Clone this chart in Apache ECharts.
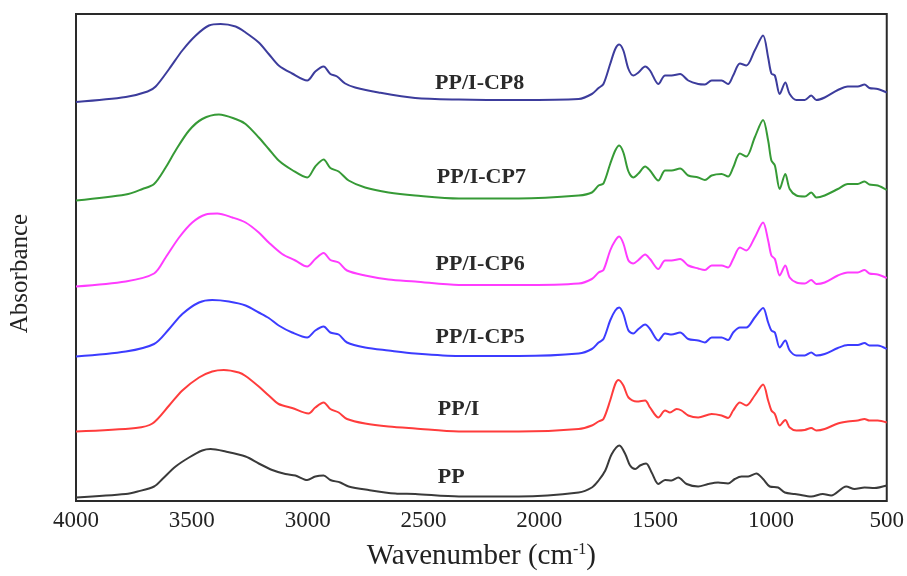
<!DOCTYPE html>
<html>
<head>
<meta charset="utf-8">
<title>FTIR spectra</title>
<script src="https://cdn.jsdelivr.net/npm/echarts@6/dist/echarts.min.js"></script>
<style>
  html, body { margin: 0; padding: 0; background: #ffffff; }
  #chart { width: 907px; height: 576px; }
</style>
</head>
<body>
<div id="chart"></div>
<script>
// FTIR absorbance spectra, [wavenumber (cm-1), absorbance (a.u., offset stacked)]
const seriesNames = ['PP/I-CP8', 'PP/I-CP7', 'PP/I-CP6', 'PP/I-CP5', 'PP/I', 'PP'];

const spectrumCP8 = [
  [4000,79.8],[3785,80.8],[3691,81.9],[3656,82.9],[3598,86.4],[3541,90.1],[3483,93.1],[3426,95.1],
  [3376,95.4],[3311,94.9],[3268,93.7],[3211,91.7],[3168,89.4],[3125,87.1],[3067,85.5],[3002,84.1],
  [2967,85.9],[2931,86.9],[2902,85.4],[2873,84.9],[2838,83.5],[2795,82.7],[2694,81.7],[2536,80.6],
  [2347,80.3],[2089,80.2],[1830,80.4],[1773,81.4],[1744,82.6],[1723,83.4],[1694,87.4],[1672,90.4],
  [1655,91.3],[1637,90.1],[1615,86.4],[1594,85.1],[1572,85.7],[1543,86.9],[1522,86.1],[1486,83.4],
  [1457,85.1],[1429,85.1],[1392,85.4],[1357,84.1],[1314,83.4],[1285,83.3],[1256,84.1],[1213,84.1],
  [1185,83.4],[1163,85.1],[1134,87.5],[1106,87.1],[1070,90.1],[1034,93.1],[1012,88.7],[998,85.5],
  [983,85.1],[962,81.4],[938,83.7],[919,81.4],[890,80.2],[854,80.2],[826,81.1],[804,80.2],
  [768,80.7],[711,82.2],[668,82.9],[625,82.9],[596,83.3],[575,82.6],[539,82.4],[500,81.7]
];

const spectrumCP7 = [
  [4000,60.1],[3785,61.3],[3713,62.4],[3663,63.4],[3613,66.7],[3570,70.1],[3512,74.1],[3455,76.4],
  [3383,77.3],[3311,76.4],[3268,75.4],[3211,72.7],[3168,70.4],[3125,68.1],[3067,66.2],[3002,64.7],
  [2967,66.9],[2931,68.3],[2902,66.6],[2866,65.9],[2823,64.1],[2752,62.7],[2651,61.7],[2536,61.1],
  [2347,60.5],[2089,60.5],[1830,61.1],[1773,61.7],[1744,63.1],[1723,63.5],[1694,67.4],[1672,70.1],
  [1655,71.1],[1637,69.7],[1615,65.9],[1594,64.7],[1572,65.5],[1543,66.9],[1522,66.1],[1486,64.1],
  [1457,66.1],[1429,66.1],[1392,66.5],[1357,65.1],[1314,64.7],[1285,64.2],[1256,65.1],[1213,65.4],
  [1185,64.9],[1163,66.7],[1134,69.5],[1106,68.9],[1070,72.7],[1034,76.2],[1012,72.1],[998,68.1],
  [983,67.1],[962,62.4],[938,65.4],[919,62.4],[890,61.1],[854,60.9],[826,61.7],[804,60.7],
  [768,61.1],[711,62.4],[668,63.4],[625,63.4],[596,63.9],[575,63.3],[539,63.1],[500,62.2]
];

const spectrumCP6 = [
  [4000,42.9],[3785,43.9],[3663,45.5],[3613,48.7],[3555,52.7],[3498,55.7],[3440,57.3],[3390,57.5],
  [3325,56.7],[3268,55.7],[3211,53.7],[3168,51.7],[3110,49.4],[3053,48.1],[3002,46.9],[2967,48.4],
  [2931,49.6],[2902,48.2],[2866,47.7],[2830,46.1],[2752,45.1],[2651,44.3],[2536,43.9],[2347,43.2],
  [2089,43.2],[1830,43.5],[1773,44.4],[1744,45.7],[1723,46.2],[1694,50.1],[1672,52.1],[1655,52.9],
  [1637,51.5],[1615,48.1],[1594,47.5],[1572,48.2],[1543,49.3],[1522,48.4],[1486,46.4],[1457,48.1],
  [1429,48.1],[1392,48.4],[1357,47.1],[1314,46.5],[1285,46.2],[1256,47.1],[1213,47.1],[1185,46.7],
  [1163,48.4],[1134,50.7],[1106,50.1],[1070,52.7],[1034,55.7],[1012,52.1],[998,49.1],[983,48.4],
  [962,45.1],[938,47.1],[919,44.7],[890,43.7],[854,43.5],[826,44.2],[804,43.4],[768,43.7],
  [711,45.1],[668,45.7],[625,45.7],[596,46.2],[575,45.5],[539,45.3],[500,44.6]
];

const spectrumCP5 = [
  [4000,28.9],[3785,29.9],[3663,31.4],[3598,34.4],[3541,37.4],[3469,39.7],[3412,40.2],[3340,39.9],
  [3268,39.1],[3211,37.7],[3168,36.6],[3125,35.1],[3067,33.7],[3002,32.7],[2967,34.1],[2931,34.9],
  [2902,33.7],[2866,33.3],[2830,31.7],[2752,30.7],[2651,30.1],[2536,29.5],[2347,29.0],[2089,29.0],
  [1830,29.5],[1773,30.4],[1744,31.7],[1723,32.4],[1694,36.1],[1672,38.1],[1655,38.7],[1637,37.4],
  [1615,34.1],[1594,33.5],[1572,34.4],[1543,35.3],[1522,34.4],[1486,32.1],[1457,33.5],[1429,33.3],
  [1392,33.7],[1357,32.4],[1314,32.1],[1285,31.7],[1256,32.7],[1213,32.7],[1185,32.2],[1163,33.7],
  [1134,34.7],[1106,34.7],[1070,36.7],[1034,38.6],[1012,35.7],[998,34.1],[983,33.7],[962,30.7],
  [938,32.1],[919,30.1],[890,29.1],[854,29.1],[826,29.7],[804,29.1],[768,29.4],[711,30.6],
  [668,31.2],[625,31.2],[596,31.6],[575,31.1],[539,31.1],[500,30.4]
];

const spectrumPPI = [
  [4000,13.9],[3742,14.6],[3670,15.5],[3598,19.1],[3541,22.1],[3469,24.7],[3412,25.9],[3362,26.2],
  [3297,25.7],[3268,25.0],[3211,22.9],[3168,21.1],[3125,19.4],[3067,18.6],[2996,17.5],[2967,18.7],
  [2931,19.7],[2902,18.4],[2866,17.7],[2830,16.4],[2752,15.5],[2651,14.9],[2536,14.5],[2347,13.9],
  [2089,13.9],[1830,14.4],[1773,15.1],[1744,15.9],[1723,16.4],[1694,20.1],[1672,23.4],[1658,24.2],
  [1637,23.1],[1615,20.7],[1579,19.9],[1543,20.1],[1522,18.7],[1486,16.7],[1457,18.1],[1436,17.7],
  [1407,18.4],[1386,18.1],[1357,17.1],[1314,16.7],[1256,17.4],[1213,17.1],[1185,16.6],[1163,18.1],
  [1134,19.7],[1106,19.1],[1070,21.1],[1034,23.3],[1012,20.1],[998,18.1],[983,17.4],[962,15.1],
  [938,16.2],[919,14.7],[890,14.1],[854,14.2],[826,14.6],[804,14.1],[768,14.4],[711,15.5],
  [668,15.9],[625,16.1],[596,16.4],[575,16.1],[539,16.1],[500,15.7]
];

const spectrumPP = [
  [4000,0.7],[3785,1.4],[3734,1.9],[3663,2.9],[3627,4.4],[3570,6.9],[3512,8.7],[3455,10.1],
  [3419,10.4],[3354,9.9],[3268,8.9],[3211,7.5],[3153,6.2],[3096,5.4],[3053,5.1],[3002,4.2],
  [2967,4.9],[2931,5.1],[2902,4.2],[2859,3.7],[2823,2.9],[2737,2.2],[2622,1.5],[2536,1.4],
  [2347,0.9],[2089,0.9],[1830,1.7],[1773,2.7],[1744,4.1],[1715,6.1],[1687,9.4],[1654,11.1],
  [1629,9.4],[1608,7.1],[1586,6.4],[1565,7.1],[1539,7.5],[1515,5.7],[1486,3.4],[1457,4.2],
  [1429,4.1],[1400,4.7],[1364,3.4],[1314,2.9],[1271,3.4],[1228,3.7],[1185,3.5],[1156,4.4],
  [1127,4.9],[1098,4.9],[1063,5.5],[1034,4.4],[1005,2.9],[969,2.7],[940,1.7],[897,1.4],
  [883,1.3],[826,0.9],[776,1.4],[740,1.1],[675,2.9],[639,2.4],[596,2.7],[553,2.6],[500,3.1]
];

const xTicks = [4000, 3500, 3000, 2500, 2000, 1500, 1000, 500];

const spectra = [spectrumCP8, spectrumCP7, spectrumCP6, spectrumCP5, spectrumPPI, spectrumPP];
const colors = ['#3c3c9c', '#369a36', '#ff3cff', '#3c3cff', '#ff3c3c', '#3a3a3a'];
// where each sample name sits: [wavenumber, absorbance] of its left edge
const labelAnchors = [[2452, 83.6], [2445, 64.8], [2450, 47.4], [2450, 32.8], [2440, 18.4], [2440, 4.8]];

const serif = "'Times New Roman', 'Liberation Serif', serif";

const chart = echarts.init(document.getElementById('chart'), null, { renderer: 'canvas' });

chart.setOption({
  backgroundColor: '#ffffff',
  animation: false,
  grid: {
    left: 76, right: 18, top: 14, bottom: 75,
    show: true, borderColor: '#2a2a2a', borderWidth: 2, backgroundColor: 'transparent'
  },
  xAxis: {
    type: 'value',
    min: xTicks[xTicks.length - 1],
    max: xTicks[0],
    interval: 500,
    inverse: true,
    axisLine: { show: false },
    axisTick: { show: false },
    splitLine: { show: false },
    axisLabel: {
      fontFamily: serif, fontSize: 23, color: '#222', margin: 8,
      formatter: (v) => String(v)
    },
    name: 'Wavenumber (cm{sup|-1})',
    nameLocation: 'middle',
    nameGap: 41,
    nameTextStyle: {
      fontFamily: serif, fontSize: 29, color: '#222',
      rich: { sup: { fontFamily: serif, fontSize: 16, color: '#222', verticalAlign: 'top' } }
    }
  },
  yAxis: {
    type: 'value',
    min: 0,
    max: 97.4,
    axisLine: { show: false },
    axisTick: { show: false },
    axisLabel: { show: false },
    splitLine: { show: false },
    name: 'Absorbance',
    nameLocation: 'middle',
    nameRotate: 90,
    nameGap: 43,
    nameTextStyle: { fontFamily: serif, fontSize: 25, color: '#222', padding: [0, 32, 0, 0] }
  },
  series: spectra.map((data, i) => ({
    name: seriesNames[i],
    type: 'line',
    data: data,
    showSymbol: false,
    smooth: 0.3,
    lineStyle: { width: 2, color: colors[i] },
    itemStyle: { color: colors[i] },
    markPoint: {
      symbol: 'circle',
      symbolSize: 1,
      itemStyle: { color: 'rgba(0,0,0,0)' },
      label: {
        show: true,
        position: 'right',
        distance: 0,
        formatter: seriesNames[i],
        fontFamily: serif,
        fontWeight: 'bold',
        fontSize: 22,
        color: '#2a2a2a'
      },
      data: [{ coord: labelAnchors[i] }]
    }
  }))
});
</script>
</body>
</html>
